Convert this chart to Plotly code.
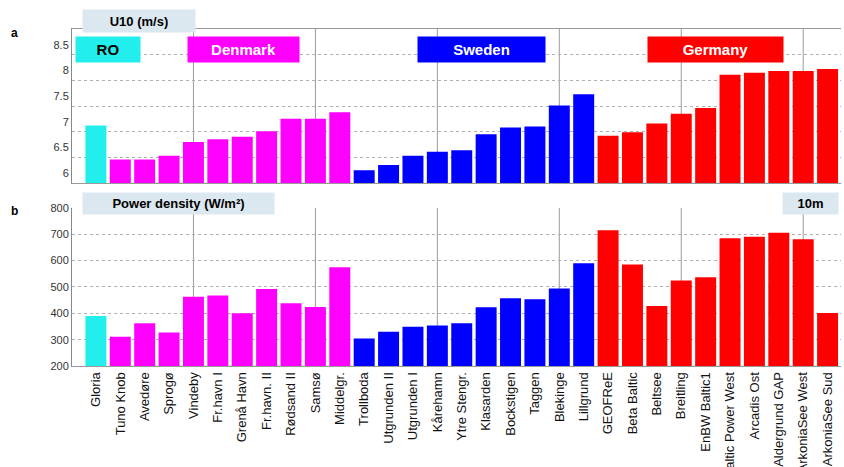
import plotly.graph_objects as go

sites = ["Gloria", "Tuno Knob", "Avedøre", "Sprogø", "Vindeby", "Fr.havn I", "Grenå Havn",
         "Fr.havn. II", "Rødsand II", "Samsø", "Middelgr.",
         "Trollboda", "Utgrunden II", "Utgrunden I", "Kårehamn", "Ytre Stengr.", "Klasarden",
         "Bockstigen", "Taggen", "Blekinge", "Lillgrund",
         "GEOFReE", "Beta Baltic", "Beltsee", "Breitling", "EnBW Baltic1", "Baltic Power West",
         "Arcadis Ost", "Aldergrund GAP", "ArkoniaSee West", "ArkoniaSee Sud"]
groups = ["RO"] + ["Denmark"] * 10 + ["Sweden"] * 10 + ["Germany"] * 10
u10 = [7.12, 6.46, 6.46, 6.53, 6.80, 6.85, 6.90, 7.01, 7.25, 7.25, 7.38,
       6.25, 6.35, 6.53, 6.61, 6.64, 6.95, 7.08, 7.10, 7.51, 7.73,
       6.92, 6.99, 7.16, 7.35, 7.46, 8.11, 8.15, 8.18, 8.18, 8.22]
power = [390, 311, 362, 327, 463, 468, 400, 492, 438, 424, 575,
         304, 330, 349, 354, 362, 423, 457, 453, 494, 590,
         715, 585, 428, 525, 537, 685, 691, 706, 681, 401]
u10_ticks = [6, 6.5, 7, 7.5, 8, 8.5]
u10_ticktext = ["6", "6.5", "7", "7.5", "8", "8.5"]
pd_ticks = [200, 300, 400, 500, 600, 700, 800]
vgrid_pos = [4, 9, 14, 19, 24, 29]

group_colors = {"RO": "#22EEEE", "Denmark": "#FF00FF", "Sweden": "#0000FF", "Germany": "#FF0000"}
colors = [group_colors[g] for g in groups]
xs = list(range(len(sites)))

W, H = 844, 467
ML, MR, MT, MB = 72, 3, 29, 101
PW, PH = W - ML - MR, H - MT - MB


def px(x):
    return (x - ML) / PW


def py(y):
    return (H - MB - y) / PH


fig = go.Figure()
fig.add_trace(go.Bar(x=xs, y=u10, marker=dict(color=colors, line=dict(width=0)),
                     xaxis="x", yaxis="y", showlegend=False))
fig.add_trace(go.Bar(x=xs, y=power, marker=dict(color=colors, line=dict(width=0)),
                     xaxis="x2", yaxis="y2", showlegend=False))

xr = [-0.98, 30.55]
tickfont_y = dict(family="Arial", size=11, color="#333333")
fig.update_layout(
    width=W, height=H, autosize=False,
    margin=dict(l=ML, r=MR, t=MT, b=MB),
    paper_bgcolor="white", plot_bgcolor="white",
    bargap=0.14,
    xaxis=dict(domain=[0, 1], anchor="y", range=xr, tickvals=xs, showticklabels=False,
               showgrid=False, showline=True, linecolor="#999999", mirror=True, ticks="",
               zeroline=False),
    yaxis=dict(domain=[0.543, 1], anchor="x", range=[6, 9], tickvals=u10_ticks,
               ticktext=u10_ticktext, showgrid=True, gridcolor="#b0b0b0", griddash="dot",
               showline=True, linecolor="#888888", ticks="", tickfont=tickfont_y,
               ticklabelshift=-10, zeroline=False),
    xaxis2=dict(domain=[0, 1], anchor="y2", range=xr, tickvals=xs, ticktext=sites,
                tickangle=-90, showgrid=False, showline=True, linecolor="#999999", ticks="",
                automargin=False, zeroline=False,
                tickfont=dict(family="Arial", size=13, color="#111111")),
    yaxis2=dict(domain=[0, 0.469], anchor="x2", range=[200, 800], tickvals=pd_ticks,
                showgrid=True, gridcolor="#b0b0b0", griddash="dot", showline=True,
                linecolor="#888888", ticks="", tickfont=tickfont_y, zeroline=False),
)

# vertical category gridlines every 5 sites
for v in vgrid_pos:
    for xa, ya in (("x", "y domain"), ("x2", "y2 domain")):
        fig.add_shape(type="line", xref=xa, yref=ya, x0=v, x1=v, y0=0, y1=1,
                      line=dict(color="#9a9a9a", width=1), layer="below")

# title boxes
boxes = [
    ("U10 (m/s)", 139, 21, 112, 22, "#dce8f0", "black"),
    ("Power density (W/m²)", 178, 203, 191, 21, "#dce8f0", "black"),
    ("10m", 810, 203, 55, 21, "#dce8f0", "black"),
    ("RO", 108, 49.5, 64, 25, "#22EEEE", "black"),
    ("Denmark", 243.5, 49.5, 111, 25, "#FF00FF", "white"),
    ("Sweden", 481.5, 49.5, 127, 25, "#0000FF", "white"),
    ("Germany", 715.5, 49.5, 135, 25, "#FF0000", "white"),
]
for text, cx, cy, w, h, bg, fc in boxes:
    size = 13 if bg == "#dce8f0" else 15
    fig.add_annotation(xref="paper", yref="paper", x=px(cx), y=py(cy), text="<b>%s</b>" % text,
                       showarrow=False, bgcolor=bg, width=w, height=h, borderpad=0,
                       xanchor="center", yanchor="middle",
                       font=dict(family="Arial", size=size, color=fc))

for lab, yy in (("a", 33), ("b", 211)):
    fig.add_annotation(xref="paper", yref="paper", x=px(14), y=py(yy), text="<b>%s</b>" % lab,
                       showarrow=False, xanchor="center", yanchor="middle",
                       font=dict(family="Arial", size=12, color="black"))

fig.write_html("out.html", config={"displayModeBar": False},
               post_script="document.body.style.margin='0';")
